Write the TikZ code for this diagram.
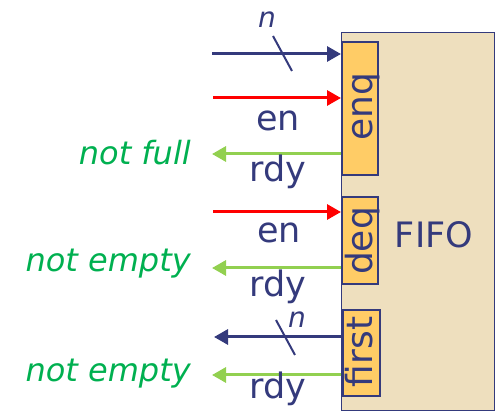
\documentclass[tikz,border=0pt]{standalone}
\usepackage{fontspec}
\setmainfont{DejaVu Sans}
\usetikzlibrary{arrows.meta}
\definecolor{navy}{RGB}{52,58,124}
\definecolor{boxfill}{RGB}{238,223,190}
\definecolor{portfill}{RGB}{255,204,102}
\definecolor{lgreen}{RGB}{146,208,80}
\definecolor{dgreen}{RGB}{0,176,80}
\definecolor{sred}{RGB}{255,0,0}
\tikzset{
  sig/.style={line width=3pt,-{Triangle[length=14pt,width=15pt]}},
  navysig/.style={sig,draw=navy},
  redsig/.style={sig,draw=sred},
  greensig/.style={sig,draw=lgreen},
  slash/.style={draw=navy,line width=2pt},
  port/.style={draw=navy,line width=1.6pt,fill=portfill,inner sep=0pt,anchor=north west},
  porttext/.style={rotate=90,anchor=base,text=navy,font=\fontsize{36}{40}\selectfont,inner sep=0pt},
  lbl/.style={text=navy,font=\fontsize{35}{40}\selectfont,inner sep=0pt,anchor=base},
  nlbl/.style={text=navy,font=\fontsize{28}{30}\selectfont\itshape,inner sep=0pt,anchor=base},
  glbl/.style={text=dgreen,font=\fontsize{32}{35}\selectfont\itshape,inner sep=0pt,anchor=base east},
}
\begin{document}
\begin{tikzpicture}[x=1pt,y=-1pt]
\useasboundingbox (0,0) rectangle (496,411);
% FIFO box
\node[draw=navy,line width=1pt,fill=boxfill,minimum width=153pt,minimum height=378pt,anchor=north west,inner sep=0pt] (fifo) at (341,32) {};
\node[lbl] (fifot) at (434,248) {FIFO};
% ports
\node[port,minimum width=36pt,minimum height=133pt] (enq) at (341,41) {};
\node[port,minimum width=36pt,minimum height=87pt] (deq) at (341,196) {};
\node[port,minimum width=37pt,minimum height=86pt] (first) at (342,309) {};
\node[porttext] (enqt) at (372,107) {enq};
\node[porttext] (deqt) at (372,241) {deq};
\node[porttext] (firstt) at (372,352) {first};
% enq group
\coordinate (s1) at (212,54);
\coordinate (s2) at (213,98);
\coordinate (s3) at (212,154);
\draw[navysig] (s1) -- (s1 -| fifo.west);
\draw[redsig] (s2) -- (s2 -| fifo.west);
\draw[greensig] (s3 -| fifo.west) -- (s3);
\coordinate (k1a) at (273,36);
\coordinate (k1b) at (292,71);
\draw[slash] (k1a) -- (k1b);
\node[nlbl] (n1) at (267,28) {n};
\node[lbl] (en1) at (278,131) {en};
\node[lbl] (rdy1) at (278,182) {rdy};
\node[glbl] (nf) at (191,165) {not full};
% deq group
\coordinate (s4) at (213,212);
\coordinate (s5) at (212,268);
\draw[redsig] (s4) -- (s4 -| fifo.west);
\draw[greensig] (s5 -| fifo.west) -- (s5);
\node[lbl] (en2) at (279,243) {en};
\node[lbl] (rdy2) at (278,297) {rdy};
\node[glbl] (ne1) at (191,272) {not empty};
% first group
\coordinate (s6) at (214,337);
\coordinate (s7) at (212,375);
\draw[navysig] (s6 -| fifo.west) -- (s6);
\draw[greensig] (s7 -| fifo.west) -- (s7);
\coordinate (k2a) at (276,320);
\coordinate (k2b) at (295,355);
\draw[slash] (k2a) -- (k2b);
\node[nlbl] (n2) at (297,328) {n};
\node[lbl] (rdy3) at (278,399) {rdy};
\node[glbl] (ne2) at (191,382) {not empty};
\end{tikzpicture}
\end{document}
